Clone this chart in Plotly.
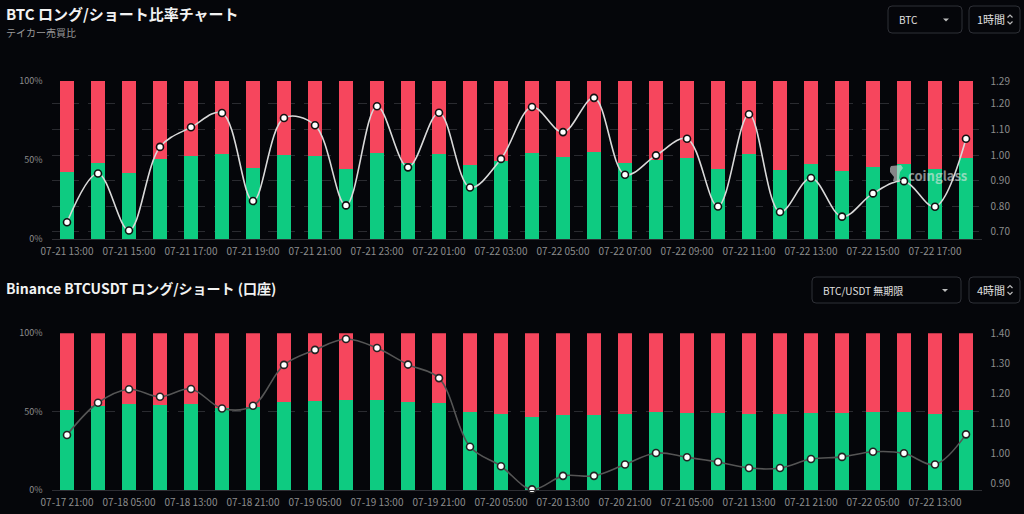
import plotly.graph_objects as go

W, H = 1024, 514
BG = "#05060a"
GREEN = "#0ecb81"
RED = "#f6465d"
TXT = "#e8e8e8"
AX = "#8c8c8c"
FONT = "Noto Sans CJK JP"

# ---------- data: top chart (1h taker buy/sell) ----------
top_times = ["07-21 13:00", "07-21 14:00", "07-21 15:00", "07-21 16:00", "07-21 17:00",
             "07-21 18:00", "07-21 19:00", "07-21 20:00", "07-21 21:00", "07-21 22:00",
             "07-21 23:00", "07-22 00:00", "07-22 01:00", "07-22 02:00", "07-22 03:00",
             "07-22 04:00", "07-22 05:00", "07-22 06:00", "07-22 07:00", "07-22 08:00",
             "07-22 09:00", "07-22 10:00", "07-22 11:00", "07-22 12:00", "07-22 13:00",
             "07-22 14:00", "07-22 15:00", "07-22 16:00", "07-22 17:00", "07-22 18:00"]
top_long = [42.4, 48.3, 41.7, 50.8, 52.5, 53.8, 45.1, 53.4, 52.8, 44.5,
            54.4, 48.3, 53.8, 46.8, 49.4, 54.2, 52.1, 54.9, 48.1, 49.8,
            51.5, 44.3, 53.6, 43.6, 47.7, 43.2, 45.8, 47.2, 44.5, 51.3]
top_short = [57.6, 51.7, 58.3, 49.2, 47.5, 46.2, 54.9, 46.6, 47.2, 55.5,
             45.6, 51.7, 46.2, 53.2, 50.6, 45.8, 47.9, 45.1, 51.9, 50.2,
             48.5, 55.7, 46.4, 56.4, 52.3, 56.8, 54.2, 52.8, 55.5, 48.7]
top_ratio = [0.737, 0.928, 0.705, 1.032, 1.109, 1.165, 0.820, 1.145, 1.117, 0.803,
             1.191, 0.952, 1.166, 0.873, 0.985, 1.188, 1.090, 1.224, 0.923, 0.999,
             1.064, 0.799, 1.160, 0.777, 0.910, 0.759, 0.850, 0.898, 0.798, 1.064]
top_ratio_ticks = [0.70, 0.80, 0.90, 1.00, 1.10, 1.20, 1.29]
top_ratio_labels = ["0.70", "0.80", "0.90", "1.00", "1.10", "1.20", "1.29"]

# ---------- data: bottom chart (4h Binance accounts) ----------
bot_times = ["07-17 21:00", "07-18 01:00", "07-18 05:00", "07-18 09:00", "07-18 13:00",
             "07-18 17:00", "07-18 21:00", "07-19 01:00", "07-19 05:00", "07-19 09:00",
             "07-19 13:00", "07-19 17:00", "07-19 21:00", "07-20 01:00", "07-20 05:00",
             "07-20 09:00", "07-20 13:00", "07-20 17:00", "07-20 21:00", "07-21 01:00",
             "07-21 05:00", "07-21 09:00", "07-21 13:00", "07-21 17:00", "07-21 21:00",
             "07-22 01:00", "07-22 05:00", "07-22 09:00", "07-22 13:00", "07-22 17:00"]
bot_long = [51.2, 53.9, 54.8, 54.1, 54.8, 52.2, 53.3, 56.3, 57.1, 57.7,
            57.3, 56.1, 55.4, 50.1, 48.8, 46.5, 48.0, 48.0, 48.8, 49.9,
            49.5, 49.0, 48.4, 48.4, 49.3, 49.5, 49.9, 49.9, 48.8, 51.4]
bot_short = [48.8, 46.1, 45.2, 45.9, 45.2, 47.8, 46.7, 43.7, 42.9, 42.3,
             42.7, 43.9, 44.6, 49.9, 51.2, 53.5, 52.0, 52.0, 51.2, 50.1,
             50.5, 51.0, 51.6, 51.6, 50.7, 50.5, 50.1, 50.1, 51.2, 48.6]
bot_ratio = [1.062, 1.169, 1.214, 1.189, 1.215, 1.150, 1.159, 1.295, 1.345, 1.381,
             1.351, 1.296, 1.251, 1.023, 0.958, 0.881, 0.926, 0.926, 0.964, 1.002,
             0.988, 0.972, 0.952, 0.952, 0.982, 0.989, 1.006, 1.001, 0.964, 1.064]
bot_ratio_ticks = [0.90, 1.00, 1.10, 1.20, 1.30, 1.40]
bot_ratio_labels = ["0.90", "1.00", "1.10", "1.20", "1.30", "1.40"]

pct_ticks = [0, 50, 100]
pct_labels = ["0%", "50%", "100%"]


def px(x):
    return x / W


def py(y):
    return 1 - y / H


XDOM = [px(51.5), px(981.5)]
TOP_DOM = [py(239), py(81)]
BOT_DOM = [py(490.3), py(333.3)]
XR_TOP = [-0.5, len(top_times) - 0.5]
XR_BOT = [-0.5, len(bot_times) - 0.5]

fig = go.Figure()

# top chart
fig.add_trace(go.Bar(x=top_times, y=top_long, marker=dict(color=GREEN, line=dict(width=0)),
                     xaxis="x", yaxis="y", name="ロング"))
fig.add_trace(go.Bar(x=top_times, y=top_short, marker=dict(color=RED, line=dict(width=0)),
                     xaxis="x", yaxis="y", name="ショート"))
fig.add_trace(go.Scatter(x=top_times, y=top_ratio, mode="lines+markers",
                         line=dict(color="#d9d9d9", width=1.6, shape="spline", smoothing=1.0),
                         marker=dict(size=7, color="#ffffff", line=dict(color="#111111", width=1.6)),
                         xaxis="x", yaxis="y2", name="比率", cliponaxis=False))

# bottom chart
fig.add_trace(go.Bar(x=bot_times, y=bot_long, marker=dict(color=GREEN, line=dict(width=0)),
                     xaxis="x2", yaxis="y3", name="ロング口座"))
fig.add_trace(go.Bar(x=bot_times, y=bot_short, marker=dict(color=RED, line=dict(width=0)),
                     xaxis="x2", yaxis="y3", name="ショート口座"))
fig.add_trace(go.Scatter(x=bot_times, y=bot_ratio, mode="lines+markers",
                         line=dict(color="#555555", width=1.6, shape="spline", smoothing=1.0),
                         marker=dict(size=7, color="#ffffff", line=dict(color="#222222", width=1.6)),
                         xaxis="x2", yaxis="y4", name="比率", cliponaxis=False))

tickfont = dict(family=FONT, size=10, color=AX)
ytickfont = dict(family=FONT, size=9, color=AX)

fig.update_layout(
    width=W, height=H,
    margin=dict(l=0, r=0, t=0, b=0, autoexpand=False),
    paper_bgcolor=BG, plot_bgcolor=BG,
    barmode="stack", bargap=0.52,
    showlegend=False,
    font=dict(family=FONT, color=TXT),
    xaxis=dict(domain=XDOM, anchor="y", type="category", automargin=False, range=XR_TOP,
               tickmode="array", tickvals=top_times[::2], ticktext=top_times[::2],
               tickfont=tickfont, showgrid=False, showline=True, linecolor="#2e2e33",
               linewidth=1, ticks="", zeroline=False, ticklabelstandoff=3),
    yaxis=dict(domain=TOP_DOM, anchor="x", range=[0, 100], automargin=False,
               tickmode="array", tickvals=pct_ticks, ticktext=pct_labels,
               tickfont=ytickfont, showgrid=False,
               zeroline=False, ticks="", ticklabelstandoff=8),
    yaxis2=dict(domain=TOP_DOM, anchor="x", overlaying="y", side="right", automargin=False,
                range=[0.6715, 1.29], tickmode="array", tickvals=top_ratio_ticks,
                ticktext=top_ratio_labels, tickfont=tickfont, showgrid=True,
                gridcolor="#2a2b30", griddash="dash", gridwidth=1, zeroline=False,
                ticks="", ticklabelstandoff=8),
    xaxis2=dict(domain=XDOM, anchor="y3", type="category", automargin=False, range=XR_BOT,
                tickmode="array", tickvals=bot_times[::2], ticktext=bot_times[::2],
                tickfont=tickfont, showgrid=False, showline=True, linecolor="#2e2e33",
                linewidth=1, ticks="", zeroline=False, ticklabelstandoff=3),
    yaxis3=dict(domain=BOT_DOM, anchor="x2", range=[0, 100], automargin=False,
                tickmode="array", tickvals=pct_ticks, ticktext=pct_labels,
                tickfont=ytickfont, showgrid=True,
                gridcolor="#2a2b30", griddash="dash", gridwidth=1,
                zeroline=False, ticks="", ticklabelstandoff=8),
    yaxis4=dict(domain=BOT_DOM, anchor="x2", overlaying="y3", side="right", automargin=False,
                range=[0.878, 1.40], tickmode="array", tickvals=bot_ratio_ticks,
                ticktext=bot_ratio_labels, tickfont=tickfont, showgrid=False,
                zeroline=False, ticks="", ticklabelstandoff=8),
)

ann = []
ann.append(dict(text="<b>BTC ロング/ショート比率チャート</b>", x=px(4), y=py(13),
                xref="paper", yref="paper", xanchor="left", yanchor="middle",
                showarrow=False, font=dict(family=FONT, size=15, color="#f2f2f2")))
ann.append(dict(text="テイカー売買比", x=px(4), y=py(32),
                xref="paper", yref="paper", xanchor="left", yanchor="middle",
                showarrow=False, font=dict(family=FONT, size=10, color="#9a9a9a")))
ann.append(dict(text="<b>Binance BTCUSDT ロング/ショート (口座)</b>", x=px(4), y=py(288),
                xref="paper", yref="paper", xanchor="left", yanchor="middle",
                showarrow=False, font=dict(family=FONT, size=14, color="#f2f2f2")))
# watermark
ann.append(dict(text="<b>coinglass</b>", x=px(906), y=py(175),
                xref="paper", yref="paper", xanchor="left", yanchor="middle",
                showarrow=False, font=dict(family=FONT, size=13, color="rgba(230,230,230,0.6)")))


def rrect(x0, y0, x1, y1, r=4):
    X0, X1 = px(x0), px(x1)
    rx = r / W
    ry = r / H
    Y0, Y1 = py(y0), py(y1)  # Y0 top (larger), Y1 bottom
    return (f"M {X0+rx},{Y0} L {X1-rx},{Y0} Q {X1},{Y0} {X1},{Y0-ry} "
            f"L {X1},{Y1+ry} Q {X1},{Y1} {X1-rx},{Y1} L {X0+rx},{Y1} "
            f"Q {X0},{Y1} {X0},{Y1+ry} L {X0},{Y0-ry} Q {X0},{Y0} {X0+rx},{Y0} Z")


shapes = []
# watermark logo (cup-like glyph)
logo = [(891, 166), (901, 165), (903, 168), (900, 172), (899, 178), (901, 181),
        (893, 181), (894, 177), (890, 172), (890, 168)]
shapes.append(dict(type="path",
                   path="M " + " L ".join(f"{px(a)},{py(b)}" for a, b in logo) + " Z",
                   xref="paper", yref="paper", line=dict(width=0),
                   fillcolor="rgba(220,220,220,0.6)", layer="above"))

boxes = [
    (888, 6, 962, 33, "BTC", "drop"),
    (969, 6, 1020, 33, "1時間", "updown"),
    (812, 277, 961, 303, "BTC/USDT 無期限", "drop"),
    (969, 277, 1020, 303, "4時間", "updown"),
]
for (x0, y0, x1, y1, label, kind) in boxes:
    shapes.append(dict(type="path", path=rrect(x0, y0, x1, y1), xref="paper", yref="paper",
                       line=dict(color="#2e3036", width=1), fillcolor=BG, layer="above"))
    cy = (y0 + y1) / 2
    ann.append(dict(text=label, x=px(x0 + 9 if kind == "drop" else x0 + 6), y=py(cy),
                    xref="paper", yref="paper", xanchor="left", yanchor="middle",
                    showarrow=False, font=dict(family=FONT, size=10 if kind == "drop" else 11,
                                               color="#e0e0e0")))
    if kind == "drop":
        ax = x1 - 16
        shapes.append(dict(type="path",
                           path=f"M {px(ax-3)},{py(cy-1)} L {px(ax+3)},{py(cy-1)} L {px(ax)},{py(cy+2)} Z",
                           xref="paper", yref="paper", line=dict(width=0), fillcolor="#bbbbbb"))
    else:
        ax = x1 - 10
        shapes.append(dict(type="path",
                           path=f"M {px(ax-2.5)},{py(cy-2)} L {px(ax)},{py(cy-4.5)} L {px(ax+2.5)},{py(cy-2)}",
                           xref="paper", yref="paper", line=dict(color="#bbbbbb", width=1.2)))
        shapes.append(dict(type="path",
                           path=f"M {px(ax-2.5)},{py(cy+2)} L {px(ax)},{py(cy+4.5)} L {px(ax+2.5)},{py(cy+2)}",
                           xref="paper", yref="paper", line=dict(color="#bbbbbb", width=1.2)))

fig.update_layout(annotations=ann, shapes=shapes)

fig.write_html("out.html", config={"displayModeBar": False},
               post_script="document.body.style.margin='0';document.body.style.background='%s';"
               "document.body.style.overflow='hidden';" % BG)
